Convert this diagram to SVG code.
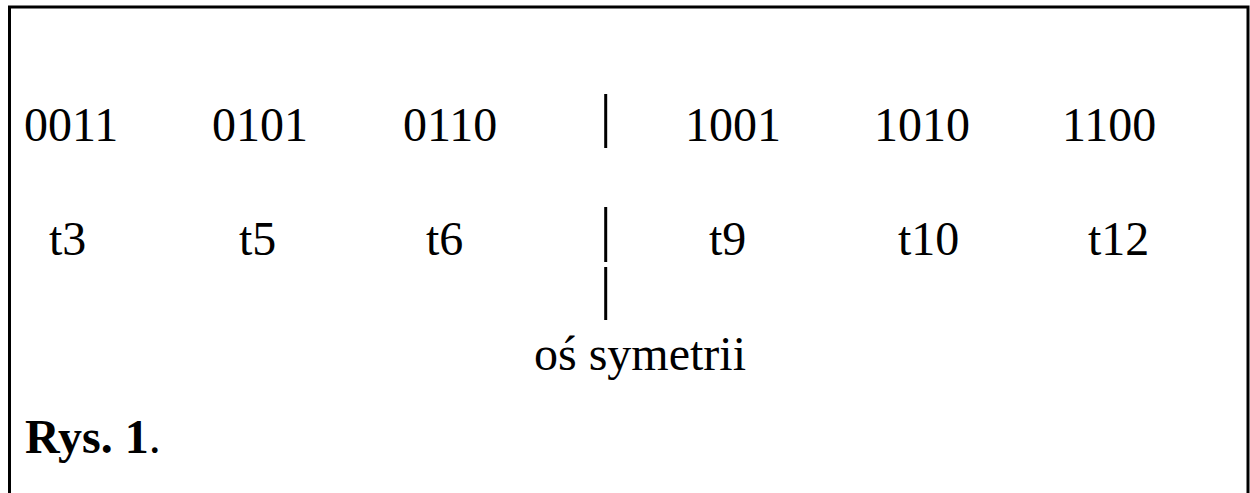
<svg xmlns="http://www.w3.org/2000/svg" width="1250" height="493" viewBox="0 0 1250 493">
<style>
text{font-family:"Liberation Serif","Times New Roman",serif;font-size:48px;fill:#000}
.b{font-weight:bold}
.ax{stroke:#000;stroke-width:3;fill:none}
</style>
<rect x="0" y="0" width="1250" height="493" fill="#fff"/>
<rect x="9.5" y="7" width="1238.5" height="500" fill="none" stroke="#000" stroke-width="3"/>
<g id="row1">
<text x="24" y="141">0011</text>
<text x="212" y="141">0101</text>
<text x="403" y="141">0110</text>
<text x="685" y="141">1001</text>
<text x="874" y="141">1010</text>
<text x="1062" y="141">1100</text>
</g>
<g id="row2">
<text x="49" y="255">t3</text>
<text x="239" y="255">t5</text>
<text x="426" y="255">t6</text>
<text x="709" y="255">t9</text>
<text x="898" y="255">t10</text>
<text x="1088" y="255">t12</text>
</g>
<g id="axis">
<line class="ax" x1="605.7" y1="94" x2="605.7" y2="148"/>
<line class="ax" x1="605.7" y1="207" x2="605.7" y2="262"/>
<line class="ax" x1="605.7" y1="267" x2="605.7" y2="320"/>
<text x="534" y="370">oś symetrii</text>
</g>
<g id="caption">
<text x="25" y="453"><tspan class="b">Rys. 1</tspan>.</text>
</g>
</svg>
